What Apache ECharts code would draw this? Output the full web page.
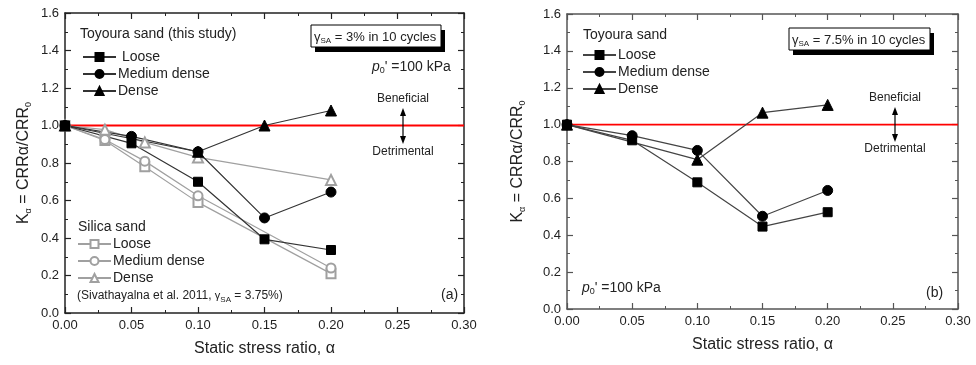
<!DOCTYPE html>
<html><head><meta charset="utf-8">
<script src="https://cdn.jsdelivr.net/npm/echarts@6/dist/echarts.min.js"></script>
<style>html,body{margin:0;padding:0;background:#fff}#c{width:976px;height:365px}</style>
</head><body><div id="c"></div>
<script>
// ---- data ----
const xA_loose = [0, 0.05, 0.10, 0.15, 0.20];
const yA_loose = [1.0, 0.905, 0.70, 0.393, 0.336];
const xA_med = [0, 0.05, 0.10, 0.15, 0.20];
const yA_med = [1.0, 0.942, 0.86, 0.507, 0.645];
const xA_dense = [0, 0.10, 0.15, 0.20];
const yA_dense = [1.0, 0.86, 1.0, 1.08];
const xS = [0, 0.03, 0.06, 0.10, 0.20];
const yS_loose = [1.0, 0.92, 0.78, 0.59, 0.21];
const yS_med = [1.0, 0.925, 0.81, 0.625, 0.24];
const yS_dense = [1.0, 0.978, 0.91, 0.83, 0.71];
const xB = [0, 0.05, 0.10, 0.15, 0.20];
const yB_loose = [1.0, 0.915, 0.687, 0.447, 0.525];
const yB_med = [1.0, 0.94, 0.86, 0.503, 0.643];
const xB_dense = [0, 0.10, 0.15, 0.20];
const yB_dense = [1.0, 0.81, 1.065, 1.107];
const xTickMin = 0, xTickMax = 0.30, xTickStep = 0.05;
const yTickMin = 0, yTickMax = 1.6, yTickStep = 0.2;
const refLine = 1.0;

const pair = (xs, ys) => xs.map((x, i) => [x, ys[i]]);
const FONT = 'Liberation Sans';
const dark = '#222';

function xAx(grid, top, axc) {
  return {
    type: 'value', gridIndex: grid, position: top ? 'top' : 'bottom',
    min: xTickMin, max: xTickMax, interval: xTickStep,
    axisLine: {show: true, onZero: false, lineStyle: {color: axc, width: 1.5}},
    axisTick: {show: true, inside: true, length: 6, lineStyle: {color: axc, width: 1.2}},
    minorTick: {show: true, splitNumber: 2, length: 3, lineStyle: {color: axc, width: 1}},
    splitLine: {show: false},
    axisLabel: top ? {show: false} : {show: true, color: dark, fontFamily: FONT, fontSize: 13, margin: 6,
      formatter: v => v.toFixed(2)},
    name: top ? '' : 'Static stress ratio, α', nameLocation: 'middle', nameGap: 28,
    nameTextStyle: {fontFamily: FONT, fontSize: 16, color: dark}
  };
}
function yAx(grid, right, axc, gap) {
  return {
    type: 'value', gridIndex: grid, position: right ? 'right' : 'left',
    min: yTickMin, max: yTickMax, interval: yTickStep,
    axisLine: {show: true, onZero: false, lineStyle: {color: axc, width: 1.5}},
    axisTick: {show: true, inside: true, length: 6, lineStyle: {color: axc, width: 1.2}},
    minorTick: {show: true, splitNumber: 2, length: 3, lineStyle: {color: axc, width: 1}},
    splitLine: {show: false},
    axisLabel: right ? {show: false} : {show: true, color: dark, fontFamily: FONT, fontSize: 13, margin: 6,
      formatter: v => v.toFixed(1)},
    name: right ? '' : '{a|K}{s|α}{a| = CRRα/CRR}{s|0}', nameLocation: 'middle', nameGap: gap || 40, nameRotate: 90,
    nameTextStyle: {fontFamily: FONT, fontSize: 16, color: dark,
      rich: {a: {fontFamily: FONT, fontSize: 16, color: dark}, s: {fontFamily: FONT, fontSize: 9, color: dark, padding: [10, 0, 0, 0]}}}
  };
}
function ser(name, xi, yi, data, sym, color, lineColor, size) {
  return {
    name, type: 'line', xAxisIndex: xi, yAxisIndex: yi, data,
    symbol: sym, symbolSize: size, showSymbol: true,
    itemStyle: {color: color, borderColor: color, borderWidth: 1},
    lineStyle: {color: lineColor, width: 1.2},
    emphasis: {disabled: true}, animation: false, z: 3
  };
}
function refSer(xi, yi, w) {
  return {
    name: 'ref' + xi, type: 'line', xAxisIndex: xi, yAxisIndex: yi,
    data: [[xTickMin, refLine], [xTickMax, refLine]], symbol: 'none', silent: true,
    lineStyle: {color: '#ff0000', width: w}, itemStyle: {color: '#ff0000'},
    emphasis: {disabled: true}, animation: false, z: 2
  };
}
const G = '#a0a0a0';
const series = [
  refSer(1, 1, 2),
  refSer(2, 2, 1.6),
  ser('s|Loose', 0, 0, pair(xS, yS_loose), 'emptyRect', G, G, 9),
  ser('s|Medium dense', 0, 0, pair(xS, yS_med), 'emptyCircle', G, G, 9),
  ser('s|Dense', 0, 0, pair(xS, yS_dense), 'emptyTriangle', G, G, 10),
  ser('a| Loose', 0, 0, pair(xA_loose, yA_loose), 'rect', '#000', '#333', 9),
  ser('a|Medium dense', 0, 0, pair(xA_med, yA_med), 'circle', '#000', '#333', 10),
  ser('a|Dense', 0, 0, pair(xA_dense, yA_dense), 'triangle', '#000', '#333', 11),
  ser('b|Loose', 2, 2, pair(xB, yB_loose), 'rect', '#000', '#444', 9),
  ser('b|Medium dense', 2, 2, pair(xB, yB_med), 'circle', '#000', '#444', 10),
  ser('b|Dense', 2, 2, pair(xB_dense, yB_dense), 'triangle', '#000', '#444', 11)
];
function leg(names, left, top) {
  return {
    data: names, left, top, orient: 'vertical', selectedMode: false,
    itemWidth: 33, itemHeight: 10, itemGap: 3, padding: 0,
    textStyle: {fontFamily: FONT, fontSize: 14, color: dark, padding: [0, 0, 0, -3], lineHeight: 13},
    formatter: n => n.split('|')[1]
  };
}
function txt(x, y, text, size, rich, align) {
  return {type: 'text', x, y, style: {text, fontFamily: FONT, fontSize: size, fill: dark,
    textAlign: align || 'left', textVerticalAlign: 'middle', rich: rich || {}}, z: 10};
}
const richG = (sz) => ({
  n: {fontFamily: FONT, fontSize: sz, color: dark},
  s: {fontFamily: FONT, fontSize: Math.round(sz * 0.62), color: dark, padding: [Math.round(sz * 0.55), 0, 0, 0]},
  p: {fontFamily: FONT, fontSize: sz, fontStyle: 'italic', color: dark}
});
function box(x, y, w, h, text) {
  return [
    {type: 'rect', shape: {x: x + 4, y: y + 5, width: w, height: h}, style: {fill: '#000'}, z: 9},
    {type: 'rect', shape: {x, y, width: w, height: h}, style: {fill: '#fff', stroke: '#000', lineWidth: 1}, z: 10},
    txt(x + 3, y + h / 2 + 1, text, 13, richG(13))
  ];
}
function arrow(x, y1, y2) {
  return [
    {type: 'line', shape: {x1: x, y1: y1 + 3, x2: x, y2: y2 - 3}, style: {stroke: '#000', lineWidth: 1.2}, z: 10},
    {type: 'polygon', shape: {points: [[x, y1 - 1], [x - 3, y1 + 7], [x + 3, y1 + 7]]}, style: {fill: '#000'}, z: 10},
    {type: 'polygon', shape: {points: [[x, y2 + 1], [x - 3, y2 - 7], [x + 3, y2 - 7]]}, style: {fill: '#000'}, z: 10}
  ];
}
const graphics = [].concat(
  [txt(80, 34, 'Toyoura sand (this study)', 14)],
  [txt(78, 227, 'Silica sand', 14)],
  [txt(77, 296, '{n|(Sivathayalna et al. 2011, }{g|γ}{s|SA}{n| = 3.75%)}', 12,
    {n: {fontFamily: FONT, fontSize: 12, color: dark}, g: {fontFamily: FONT, fontSize: 11, color: dark},
     s: {fontFamily: FONT, fontSize: 8, color: dark, padding: [8, 0, 0, 0]}})],
  box(311, 25, 130, 22, '{n|γ}{s|SA}{n| = 3% in 10 cycles}'),
  [txt(372, 67, '{p|p}{s|0}{n|\' =100 kPa}', 14, richG(14))],
  [txt(403, 99, 'Beneficial', 12, null, 'center')],
  arrow(403, 109, 143),
  [txt(403, 152, 'Detrimental', 12, null, 'center')],
  [txt(441, 295, '(a)', 14)],
  [txt(583, 35, 'Toyoura sand', 14)],
  box(789, 28, 141, 22, '{n|γ}{s|SA}{n| = 7.5% in 10 cycles}'),
  [txt(895, 98, 'Beneficial', 12, null, 'center')],
  arrow(895, 108, 141),
  [txt(895, 149, 'Detrimental', 12, null, 'center')],
  [txt(582, 288, '{p|p}{s|0}{n|\' =100 kPa}', 14, richG(14))],
  [txt(926, 293, '(b)', 14)]
);
const option = {
  backgroundColor: '#fff',
  animation: false,
  grid: [
    {left: 65, top: 13, width: 399, height: 300},
    {left: 65, top: 13, width: 399, height: 300},
    {left: 567, top: 14, width: 391, height: 295},
    {left: 567, top: 14, width: 391, height: 295}
  ],
  xAxis: [xAx(0, false, '#222'), xAx(1, true, '#222'), xAx(2, false, '#555'), xAx(3, true, '#555')],
  yAxis: [yAx(0, false, '#222', 32), yAx(1, true, '#222'), yAx(2, false, '#555', 40), yAx(3, true, '#555')],
  legend: [
    leg(['a| Loose', 'a|Medium dense', 'a|Dense'], 82, 50),
    leg(['s|Loose', 's|Medium dense', 's|Dense'], 77, 237),
    leg(['b|Loose', 'b|Medium dense', 'b|Dense'], 582, 48)
  ],
  series,
  graphic: graphics
};
const chart = echarts.init(document.getElementById('c'), null, {renderer: 'canvas'});
chart.setOption(option);
</script></body></html>
